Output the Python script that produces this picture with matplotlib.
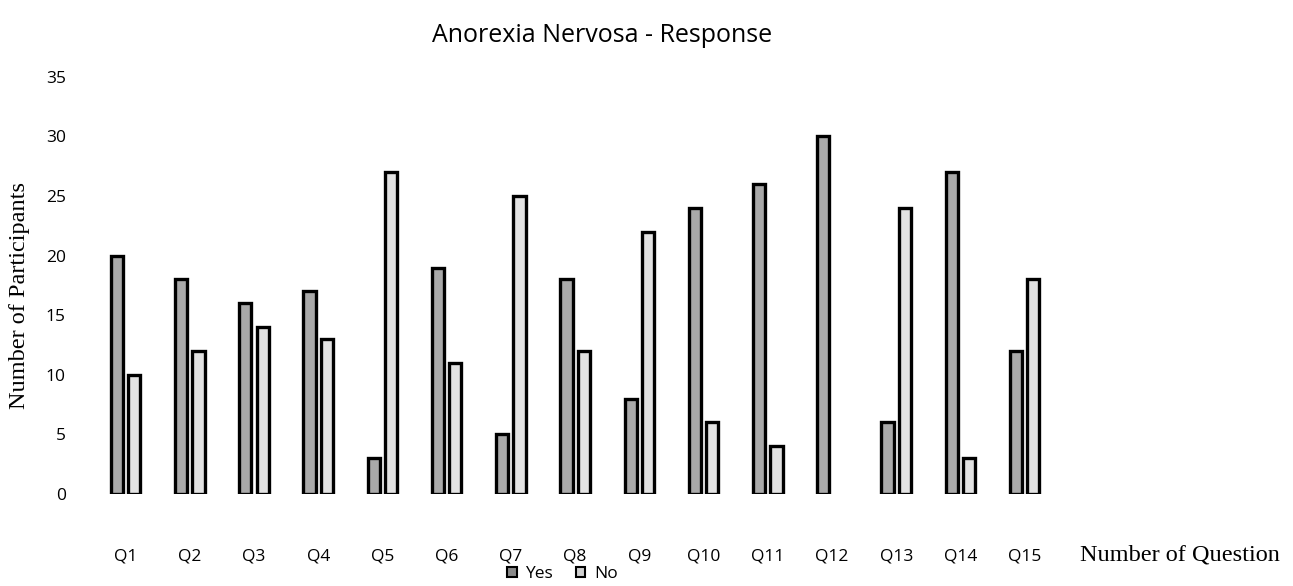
import numpy as np
import matplotlib
matplotlib.use("Agg")
import matplotlib.pyplot as plt
from matplotlib.patches import Patch

questions = ["Q1", "Q2", "Q3", "Q4", "Q5", "Q6", "Q7", "Q8", "Q9", "Q10",
             "Q11", "Q12", "Q13", "Q14", "Q15"]
yes_counts = [20, 18, 16, 17, 3, 19, 5, 18, 8, 24, 26, 30, 6, 27, 12]
no_counts = [10, 12, 14, 13, 27, 11, 25, 12, 22, 6, 4, 0, 24, 3, 18]
y_ticks = [0, 5, 10, 15, 20, 25, 30, 35]

sans = ["Open Sans", "DejaVu Sans"]
serif = ["Liberation Serif", "DejaVu Serif"]
yes_color = "#a9a9a9"
no_color = "#e2e2e2"

fig = plt.figure(figsize=(12.93, 5.86), dpi=100)
ax = fig.add_axes([0.0723, 0.157, 0.745, 0.712])

x = np.arange(len(questions))
w = 0.19
off = 0.135
for xs, vals, col, lab in [(x - off, yes_counts, yes_color, "Yes"),
                           (x + off, no_counts, no_color, "No")]:
    bars = ax.bar(xs, vals, w, facecolor=col, edgecolor="black",
                  linewidth=2.4, label=lab)
    # a zero count leaves no visible bar
    for b, v in zip(bars, vals):
        if v == 0:
            b.set_visible(False)

ax.set_xlim(-0.5, len(questions) - 0.5)
ax.set_ylim(0, 35)
ax.set_yticks(y_ticks)
ax.set_xticks(x)
ax.set_xticklabels(questions, fontfamily=sans, fontsize=12.5)
ax.set_yticklabels([str(v) for v in y_ticks], fontfamily=sans, fontsize=12.5)
ax.tick_params(axis="both", length=0)
ax.tick_params(axis="y", pad=20)
ax.tick_params(axis="x", pad=39)
for s in ax.spines.values():
    s.set_visible(False)

fig.text(0.466, 0.94, "Anorexia Nervosa - Response", fontfamily=sans,
         fontsize=18, ha="center", va="center")
fig.text(0.015, 0.495, "Number of Participants", fontfamily=serif,
         fontsize=17.5, rotation=90, ha="center", va="center")
fig.text(0.9126, 0.053, "Number of Question", fontfamily=serif,
         fontsize=17.5, ha="center", va="center")

handles = [Patch(facecolor="#8a8a8a", edgecolor="black", linewidth=1.5),
           Patch(facecolor="#d0d0d0", edgecolor="black", linewidth=1.5)]
fig.legend(handles, ["Yes", "No"], loc="center", bbox_to_anchor=(0.435, 0.02),
           ncol=2, frameon=False, prop={"family": sans, "size": 12.5},
           handlelength=0.55, handleheight=0.55, handletextpad=0.5,
           columnspacing=1.3)

fig.savefig("out.png", dpi=100)
